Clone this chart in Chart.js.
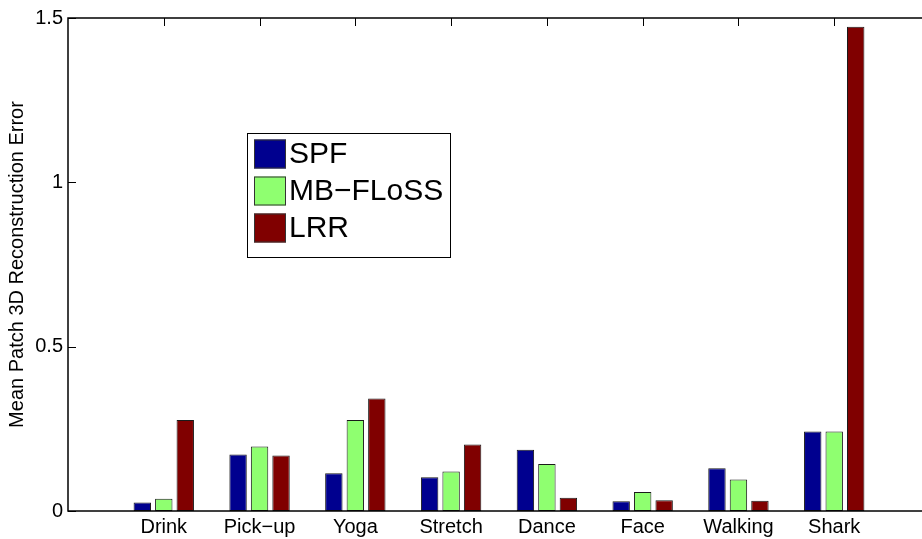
<!DOCTYPE html>
<html>
<head>
<meta charset="utf-8">
<script src="https://cdn.jsdelivr.net/npm/chart.js@4/dist/chart.umd.min.js"></script>
<style>
  html, body { margin: 0; padding: 0; background: #fff; overflow: hidden; }
  #wrap { width: 922px; height: 539px; overflow: hidden; }
</style>
</head>
<body>
<div id="wrap"><canvas id="errChart" width="934" height="539"></canvas></div>
<script>
// sequences and per-method mean patch errors
const sequences = ['Drink', 'Pick\u2212up', 'Yoga', 'Stretch', 'Dance', 'Face', 'Walking', 'Shark'];
const methods = ['SPF', 'MB\u2212FLoSS', 'LRR'];
const spfErr    = [0.026, 0.172, 0.115, 0.103, 0.186, 0.030, 0.130, 0.242];
const mbflossErr = [0.037, 0.196, 0.277, 0.120, 0.143, 0.058, 0.096, 0.242];
const lrrErr    = [0.277, 0.169, 0.342, 0.202, 0.040, 0.033, 0.031, 1.473];
const yTicks = [0, 0.5, 1, 1.5];

const colors = ['#00008f', '#8fff70', '#800000'];
const FONT = "'Liberation Sans', Arial, Helvetica, sans-serif";

// empty slot on both ends, so the axis runs half a group past the first/last bar pair
const pad = arr => [null, ...arr, null];
const labels = pad(sequences);

// box around the axes plus inward ticks (matlab style)
const framePlugin = {
  id: 'frame',
  beforeDatasetsDraw(chart) {
    const { ctx, chartArea: a, scales: { x } } = chart;
    ctx.save();
    ctx.strokeStyle = '#000';
    ctx.lineWidth = 1;
    for (let i = 1; i <= sequences.length; i++) {
      const px = Math.round(x.getPixelForValue(i)) + 0.5;
      ctx.beginPath();
      ctx.moveTo(px, a.bottom);
      ctx.lineTo(px, a.bottom - 8);
      ctx.stroke();
    }
    ctx.restore();
  },
  afterDatasetsDraw(chart) {
    const { ctx, chartArea: a, scales: { x, y } } = chart;
    ctx.save();
    ctx.strokeStyle = '#000';
    ctx.lineWidth = 1;
    yTicks.forEach(v => {
      const py = Math.round(y.getPixelForValue(v)) + 0.5;
      ctx.beginPath();
      ctx.moveTo(a.left, py); ctx.lineTo(a.left + 8, py);
      ctx.moveTo(a.right, py); ctx.lineTo(a.right - 8, py);
      ctx.stroke();
    });
    for (let i = 1; i <= sequences.length; i++) {
      const px = Math.round(x.getPixelForValue(i)) + 0.5;
      ctx.beginPath();
      ctx.moveTo(px, a.top);
      ctx.lineTo(px, a.top + 8);
      ctx.stroke();
    }
    ctx.lineWidth = 1.5;
    ctx.strokeRect(Math.round(a.left), Math.round(a.top), Math.round(a.right - a.left), Math.round(a.bottom - a.top));
    ctx.restore();
  }
};

// legend box inside the axes
const boxLegend = {
  id: 'boxLegend',
  afterDraw(chart, args, opts) {
    const { ctx } = chart;
    const { left, top, width, height, rowGap, swatchW, swatchH } = opts;
    ctx.save();
    ctx.fillStyle = '#fff';
    ctx.fillRect(left, top, width, height);
    ctx.strokeStyle = '#000';
    ctx.lineWidth = 1;
    ctx.strokeRect(left + 0.5, top + 0.5, width, height);
    ctx.font = '30px ' + FONT;
    ctx.textBaseline = 'middle';
    chart.data.datasets.forEach((ds, i) => {
      const cy = top + 21 + i * rowGap;
      ctx.fillStyle = ds.backgroundColor;
      ctx.fillRect(left + 7, cy - swatchH / 2, swatchW, swatchH);
      ctx.strokeStyle = '#333';
      ctx.strokeRect(left + 7.5, cy - swatchH / 2 + 0.5, swatchW - 1, swatchH - 1);
      ctx.fillStyle = '#000';
      ctx.fillText(ds.label, left + 42, cy + 1);
    });
    ctx.restore();
  }
};

const series = [spfErr, mbflossErr, lrrErr];
const datasets = methods.map((m, i) => ({
  label: m,
  data: pad(series[i]),
  backgroundColor: colors[i],
  borderColor: '#1a1a1a',
  borderWidth: 1,
  borderSkipped: false,
  categoryPercentage: 0.673,
  barPercentage: 0.81
}));

new Chart(document.getElementById('errChart'), {
  type: 'bar',
  data: { labels: labels, datasets: datasets },
  options: {
    responsive: false,
    animation: false,
    layout: { padding: { top: 18, right: 4, bottom: 0, left: 0 } },
    plugins: {
      legend: { display: false },
      tooltip: { enabled: false },
      boxLegend: { left: 247, top: 133, width: 203, height: 124, rowGap: 37, swatchW: 32, swatchH: 29 }
    },
    scales: {
      x: {
        offset: false,
        grid: { display: false, drawTicks: false },
        border: { display: false },
        ticks: { color: '#000', font: { family: FONT, size: 20 }, padding: 4, maxRotation: 0, autoSkip: false },
        afterFit: s => { s.height = 28; }
      },
      y: {
        min: 0,
        max: 1.5,
        grid: { display: false, drawTicks: false },
        border: { display: false },
        ticks: {
          stepSize: 0.5,
          color: '#000',
          font: { family: FONT, size: 20 },
          padding: 5,
          callback: v => String(v)
        },
        title: {
          display: true,
          text: 'Mean Patch 3D Reconstruction Error',
          color: '#000',
          font: { family: FONT, size: 20 },
          padding: { top: 5, bottom: 0 }
        },
        afterFit: s => { s.width = 68; }
      }
    }
  },
  plugins: [framePlugin, boxLegend]
});
</script>
</body>
</html>
